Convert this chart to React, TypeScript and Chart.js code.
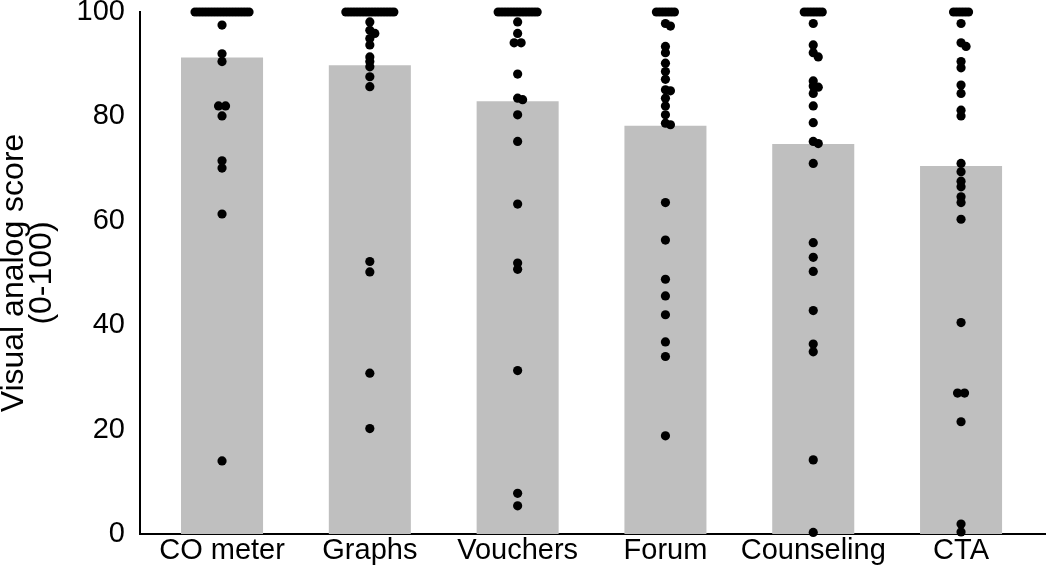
import React, { useEffect, useRef } from "react";
import { Chart, registerables } from "chart.js";

Chart.register(...registerables);

const categories = ["CO meter", "Graphs", "Vouchers", "Forum", "Counseling", "CTA"];
const meanScores = [91.3, 89.8, 82.9, 78.2, 74.7, 70.5];
const yTicks = [0, 20, 40, 60, 80, 100];

const coMeterScores = [
  100, 100, 100, 100, 100, 100, 100, 100, 100, 100, 100, 100, 100, 100, 100, 100, 100, 100, 100,
  97.5, 92, 90.5, 82, 82, 80.1, 71.5, 70.1, 61.3, 14,
];
const graphsScores = [
  100, 100, 100, 100, 100, 100, 100, 100, 100, 100, 100, 100, 100, 100, 100, 100, 100,
  98.1, 96.5, 95.9, 94.9, 93.7, 91.4, 90.5, 89.5, 87.6, 85.7, 52.2, 50.2, 30.8, 20.2,
];
const vouchersScores = [
  100, 100, 100, 100, 100, 100, 100, 100, 100, 100, 100, 100, 100, 100,
  98.1, 95.9, 94.1, 94.1, 88.1, 83.5, 83.2, 80.3, 75.2, 63.2, 51.9, 50.7, 31.3, 7.8, 5.4,
];
const forumScores = [
  100, 100, 100, 100, 100, 100, 100,
  97.8, 97.3, 93.4, 92.2, 90.2, 88.6, 87.1, 85.1, 84.9, 83.5, 82.0, 80.3, 78.7, 78.4,
  63.5, 56.3, 48.8, 45.6, 42.0, 36.8, 34.0, 18.8,
];
const counselingScores = [
  100, 100, 100, 100, 100, 100, 100,
  97.8, 93.7, 92.2, 91.4, 86.8, 85.8, 85.6, 84.4, 82.0, 78.8, 75.2, 74.8, 71.0,
  55.8, 53.0, 50.3, 42.8, 36.4, 34.9, 14.2, 0.3,
];
const ctaScores = [
  100, 100, 100, 100, 100, 100,
  97.8, 94.1, 93.4, 90.5, 89.3, 86.0, 84.4, 81.2, 80.1, 71.0, 69.4, 67.6, 66.5, 64.6, 63.5, 60.3,
  40.5, 27.0, 27.0, 21.5, 1.9, 0.4,
];
const allScores = [coMeterScores, graphsScores, vouchersScores, forumScores, counselingScores, ctaScores];

// approximate pixel geometry used only for the dot-swarm spreading
const PX_PER_UNIT = 5.22;
const PX_PER_CAT = 147.8;

function swarmOffsets(values: number[]): number[] {
  const offsets = new Array(values.length).fill(0);
  const placed: { x: number; y: number }[] = [];
  const groups = new Map<number, number[]>();
  values.forEach((v, i) => {
    const g = groups.get(v) || [];
    g.push(i);
    groups.set(v, g);
  });
  const singles: number[] = [];
  groups.forEach((idxs, v) => {
    if (idxs.length > 1) {
      const step = idxs.length > 3 ? 3.0 : 7;
      idxs.forEach((idx, k) => {
        const px = (k - (idxs.length - 1) / 2) * step;
        offsets[idx] = px / PX_PER_CAT;
        placed.push({ x: px, y: v * PX_PER_UNIT });
      });
    } else {
      singles.push(idxs[0]);
    }
  });
  singles.sort((a, b) => values[b] - values[a]);
  for (const idx of singles) {
    const y = values[idx] * PX_PER_UNIT;
    for (let k = 0; k < 20; k++) {
      const px = k === 0 ? 0 : (k % 2 === 1 ? 1 : -1) * Math.ceil(k / 2) * 5;
      const ok = placed.every((p) => Math.hypot(p.x - px, p.y - y) >= 4.5);
      if (ok) {
        offsets[idx] = px / PX_PER_CAT;
        placed.push({ x: px, y });
        break;
      }
    }
  }
  return offsets;
}

const FONT_FAMILY = "'Liberation Sans', Arial, sans-serif";
const FONT = { family: FONT_FAMILY, size: 29 };

export default function App() {
  const ref = useRef<HTMLCanvasElement | null>(null);

  useEffect(() => {
    document.body.style.margin = "0";
    if (!ref.current) return;

    const dots: { x: number; y: number }[] = [];
    allScores.forEach((vals, ci) => {
      const offs = swarmOffsets(vals);
      vals.forEach((v, i) => dots.push({ x: ci + offs[i], y: v }));
    });

    const chart = new Chart(ref.current, {
      type: "bar",
      data: {
        datasets: [
          {
            type: "scatter",
            data: dots,
            backgroundColor: "#000000",
            borderWidth: 0,
            pointRadius: 4.6,
            clip: false,
            order: 0,
          } as any,
          {
            type: "bar",
            data: meanScores.map((m, i) => ({ x: i, y: m })),
            backgroundColor: "#BFBFBF",
            borderWidth: 0,
            categoryPercentage: 1,
            barPercentage: 0.555,
            order: 1,
          } as any,
        ],
      },
      options: {
        animation: false,
        responsive: true,
        maintainAspectRatio: false,
        layout: { padding: { left: 0, right: 5, top: 12, bottom: 0 } },
        plugins: { legend: { display: false }, tooltip: { enabled: false } },
        scales: {
          x: {
            type: "linear",
            offset: false,
            min: -0.555,
            max: 5.568,
            grid: { display: false, drawTicks: false },
            border: { display: true, color: "#000000", width: 2 },
            afterBuildTicks: (axis: any) => {
              axis.ticks = categories.map((_, i) => ({ value: i }));
            },
            afterFit: (axis: any) => {
              axis.height = 53;
              axis.paddingLeft = 0;
              axis.paddingRight = 0;
            },
            ticks: {
              autoSkip: false,
              maxRotation: 0,
              color: "#000000",
              font: FONT,
              padding: 0,
              callback: (v: any) => categories[v] ?? "",
            },
          },
          y: {
            type: "linear",
            min: 0,
            max: 100,
            grid: { display: false, drawTicks: false },
            border: { display: true, color: "#000000", width: 2 },
            afterBuildTicks: (axis: any) => {
              axis.ticks = yTicks.map((v) => ({ value: v }));
            },
            afterFit: (axis: any) => {
              axis.width = 140;
              axis.paddingTop = 0;
              axis.paddingBottom = 0;
            },
            ticks: { color: "#000000", font: FONT, padding: 15 },
            title: {
              display: true,
              text: ["Visual analog score", "(0-100)"],
              color: "#000000",
              font: { family: FONT_FAMILY, size: 32, lineHeight: "28px" } as any,
              padding: 0,
            },
          },
        },
      } as any,
    });
    return () => chart.destroy();
  }, []);

  return (
    <div style={{ width: 1050, height: 587, position: "relative", background: "#ffffff" }}>
      <canvas ref={ref} />
    </div>
  );
}
